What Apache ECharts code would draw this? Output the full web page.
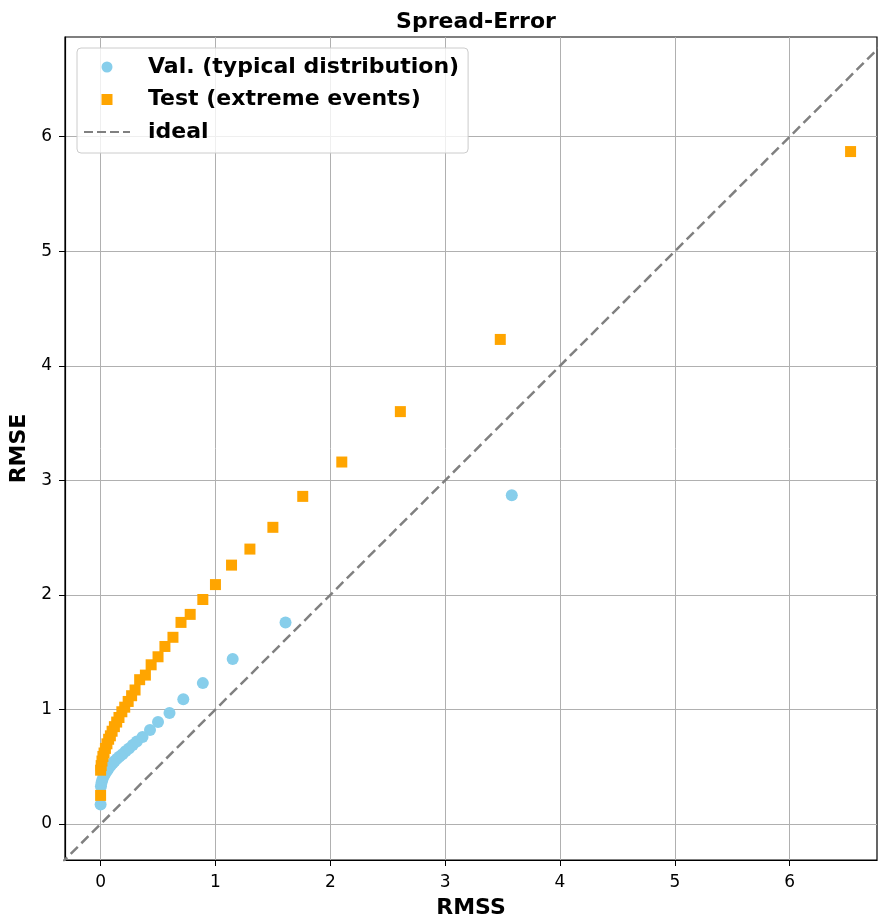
<!DOCTYPE html>
<html>
<head>
<meta charset="utf-8">
<script src="https://cdn.jsdelivr.net/npm/echarts@6/dist/echarts.min.js"></script>
<style>
  html, body { margin: 0; padding: 0; background: #fff; }
  #main { width: 878px; height: 920px; }
</style>
</head>
<body>
<div id="main"></div>
<script>
var valRmss = [0, 0.003, 0.008, 0.015, 0.024, 0.034, 0.045, 0.058, 0.072, 0.088, 0.105, 0.123, 0.143, 0.165, 0.19, 0.217, 0.247, 0.28, 0.315, 0.365, 0.43, 0.5, 0.6, 0.72, 0.89, 1.15, 1.61, 3.58];
var valRmse = [0.17, 0.33, 0.36, 0.385, 0.41, 0.43, 0.45, 0.47, 0.49, 0.51, 0.53, 0.55, 0.57, 0.59, 0.61, 0.635, 0.66, 0.69, 0.72, 0.76, 0.82, 0.89, 0.97, 1.09, 1.23, 1.44, 1.76, 2.87];

var testRmss = [0, 0, 0.005, 0.012, 0.02, 0.03, 0.042, 0.055, 0.07, 0.085, 0.1, 0.12, 0.14, 0.16, 0.185, 0.21, 0.24, 0.27, 0.3, 0.34, 0.39, 0.44, 0.5, 0.56, 0.63, 0.7, 0.78, 0.89, 1.0, 1.14, 1.3, 1.5, 1.76, 2.1, 2.61, 3.48, 6.53];
var testRmse = [0.25, 0.47, 0.51, 0.55, 0.59, 0.62, 0.66, 0.7, 0.74, 0.77, 0.81, 0.85, 0.89, 0.93, 0.98, 1.02, 1.07, 1.12, 1.17, 1.26, 1.3, 1.39, 1.46, 1.55, 1.63, 1.76, 1.83, 1.96, 2.09, 2.26, 2.4, 2.59, 2.86, 3.16, 3.6, 4.23, 5.87];

var idealLine = [-1, 8];
var tickValues = [0, 1, 2, 3, 4, 5, 6];

var xMin = -0.31, xMax = 6.76;
var yMin = -0.314, yMax = 6.87;

function pairs(xs, ys) {
  return xs.map(function (x, i) { return [x, ys[i]]; });
}

var chartDom = document.getElementById('main');
var myChart = echarts.init(chartDom);
var font = 'DejaVu Sans';

function axisStyle(name, gap, margin) {
  return {
    type: 'value',
    name: name,
    nameLocation: 'middle',
    nameGap: gap,
    nameTextStyle: { fontFamily: font, fontWeight: 'bold', fontSize: 22, color: '#000' },
    axisLine: { show: true, onZero: false, lineStyle: { color: '#000', width: 1.2 } },
    axisTick: { show: true, inside: false, length: 6, customValues: tickValues, lineStyle: { color: '#000' } },
    axisLabel: { customValues: tickValues, margin: margin, fontFamily: font, fontSize: 17, color: '#000' },
    splitLine: { show: true, lineStyle: { color: '#b0b0b0', width: 1 } }
  };
}

var xAxis = axisStyle('RMSS', 37, 14);
xAxis.min = xMin;
xAxis.max = xMax;
xAxis.splitNumber = 7;
var yAxis = axisStyle('RMSE', 33, 13);
yAxis.min = yMin;
yAxis.max = yMax;
yAxis.splitNumber = 7;

var option = {
  animation: false,
  backgroundColor: '#fff',
  title: {
    text: 'Spread-Error',
    left: 471,
    top: 6,
    textAlign: 'center',
    textStyle: { fontFamily: font, fontWeight: 'bold', fontSize: 22, color: '#000' }
  },
  legend: {
    orient: 'vertical',
    left: 77,
    top: 48,
    padding: [6, 9, 8, 7],
    backgroundColor: 'rgba(255,255,255,0.8)',
    borderColor: '#cccccc',
    borderWidth: 1,
    borderRadius: 4,
    itemWidth: 46,
    itemHeight: 11,
    itemGap: 6.5,
    symbolKeepAspect: true,
    textStyle: { fontFamily: font, fontWeight: 'bold', fontSize: 22, color: '#000', lineHeight: 26, padding: [0, 0, 0, 13] },
    data: [
      { name: 'Val. (typical distribution)', icon: 'circle' },
      { name: 'Test (extreme events)', icon: 'path://M0,0L10,0L10,10L0,10Z' },
      { name: 'ideal', icon: 'path://M0,0h9v2h-9z M13,0h9v2h-9z M26,0h9v2h-9z M39,0h7v2h-7z' }
    ]
  },
  grid: {
    left: 65,
    right: 1,
    top: 37,
    bottom: 60,
    outerBoundsMode: 'none',
    containLabel: false,
    show: true,
    borderColor: '#000',
    borderWidth: 1.2
  },
  xAxis: xAxis,
  yAxis: yAxis,
  series: [
    {
      name: 'Val. (typical distribution)',
      type: 'scatter',
      symbol: 'circle',
      symbolSize: 12,
      itemStyle: { color: '#87ceeb', opacity: 1 },
      data: pairs(valRmss, valRmse),
      z: 2
    },
    {
      name: 'Test (extreme events)',
      type: 'scatter',
      symbol: 'rect',
      symbolSize: 11,
      itemStyle: { color: '#ffa500', opacity: 1 },
      data: pairs(testRmss, testRmse),
      z: 3
    },
    {
      name: 'ideal',
      type: 'line',
      symbol: 'none',
      clip: true,
      lineStyle: { color: '#808080', width: 2.5, type: [10, 5] },
      itemStyle: { color: '#808080' },
      data: pairs(idealLine, idealLine),
      z: 4
    }
  ]
};

option && myChart.setOption(option);
</script>
</body>
</html>
